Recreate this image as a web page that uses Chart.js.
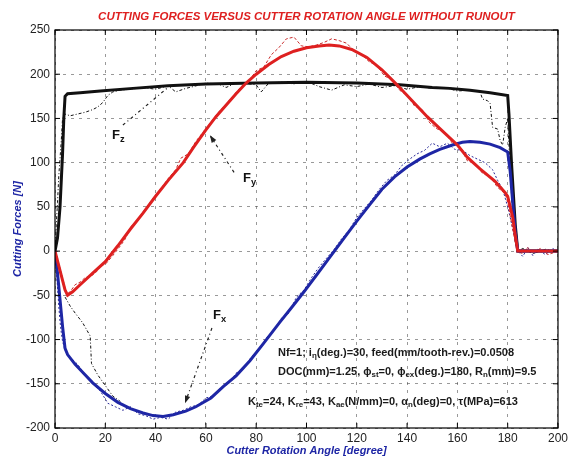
<!DOCTYPE html>
<html>
<head>
<meta charset="utf-8">
<script src="https://cdn.jsdelivr.net/npm/chart.js@4.4.1/dist/chart.umd.min.js"></script>
<style>
  html, body { margin: 0; padding: 0; background: #fff; }
  #wrap { width: 571px; height: 458px; }
</style>
</head>
<body>
<div id="wrap"><canvas id="forceChart" width="571" height="458"></canvas></div>
<script>
// tick labels
let angleTicks = [0, 20, 40, 60, 80, 100, 120, 140, 160, 180, 200];
let forceTicks = [-200, -150, -100, -50, 0, 50, 100, 150, 200, 250];

// simulated Fx (blue)
let simFxAngle = [0, 1, 2, 3, 4, 5, 8, 11, 15, 20, 25, 30, 35, 39, 43, 47, 52, 56, 62, 67, 72, 77.5, 83, 89.5, 94, 99, 104, 109, 115, 120, 125, 130, 135, 140, 145, 149, 153, 158, 162, 165, 169, 173, 177, 180, 181, 182, 183, 184, 190, 200];
let simFx = [0, -25, -55, -85, -110, -117, -128, -137, -149, -161, -171, -178, -183, -186, -187, -185, -181, -176, -166, -153, -141, -124, -104, -80, -64, -46, -27, -8, 15, 34, 52, 70, 84, 95, 104, 110, 115, 120, 123, 124, 123, 121, 117, 112, 90, 55, 22, 0, 0, 0];

// simulated Fy (red)
let simFyAngle = [0, 2, 4, 5, 7, 10, 15, 20, 25, 30, 35, 40, 45, 51, 55, 60, 64, 68, 72, 76, 80, 85, 90, 95, 100, 105, 109, 113, 118, 124, 130, 136, 142, 148, 154, 160, 164, 169, 175, 179, 180, 182, 183, 184, 200];
let simFy = [0, -22, -44, -50, -46, -38, -25, -12, 6, 25, 43, 62, 80, 100, 117, 137, 152, 165, 178, 190, 200, 211, 220, 226, 230, 232, 233, 232, 228, 219, 205, 188, 170, 152, 136, 120, 106, 93, 79, 66, 62, 38, 18, 0, 0];

// simulated Fz (black)
let simFzAngle = [0, 1, 2, 3, 3.5, 4, 5, 10, 18, 31, 45, 60, 80, 100, 120, 137, 150, 157, 165, 173, 180, 180.5, 181.5, 183, 184, 200];
let simFz = [0, 15, 50, 110, 150, 175, 178, 179, 181, 184, 187, 189, 190, 191, 190, 188, 185, 184, 182, 179, 176, 155, 100, 30, 0, 0];

// measured Fz (black dash-dot)
let expFzAngle = [0, 0.5, 1, 1.5, 2, 2.5, 3, 4, 6, 9, 12, 15, 17, 19, 21, 23, 26, 30, 35, 40, 45, 48, 52, 55, 60, 65, 68, 72, 75, 80, 82, 85, 90, 95, 100, 105, 110, 115, 120, 125, 130, 135, 140, 145, 150, 155, 160, 165, 169, 170, 172, 173, 174, 176, 177, 178, 179, 180, 181, 182, 183, 184, 186, 190, 195, 200];
let expFz = [0, 30, 55, 85, 105, 125, 150, 155, 153, 155, 157, 160, 163, 168, 176, 180, 182, 183, 185, 183, 187, 180, 184, 186, 190, 189, 185, 190, 190, 188, 180, 190, 191, 189, 192, 186, 182, 188, 186, 189, 185, 187, 183, 186, 184, 185, 181, 182, 180, 172, 170, 167, 140, 138, 125, 120, 140, 150, 90, 40, 10, 0, 3, -3, 2, -1];

// measured Fy (red dashed)
let expFyAngle = [0, 1, 2, 3, 4, 5, 6, 8, 10, 12, 15, 17, 18, 20, 23, 26, 28, 30, 33, 36, 39, 42, 45, 48, 50, 53, 56, 59, 62, 65, 68, 71, 74, 77, 80, 83, 86, 89, 92, 95, 98, 101, 104, 107, 110, 113, 116, 119, 122, 125, 128, 131, 134, 137, 140, 143, 146, 149, 152, 155, 158, 161, 164, 167, 170, 173, 176, 179, 180, 181, 182, 183, 184, 186, 188, 190, 193, 196, 200];
let expFy = [0, -8, -20, -30, -42, -48, -46, -38, -35, -30, -27, -22, -16, -15, -5, 6, 14, 27, 36, 48, 60, 70, 82, 92, 105, 110, 124, 135, 146, 157, 166, 176, 186, 192, 204, 208, 222, 230, 240, 242, 232, 231, 233, 236, 240, 238, 235, 226, 222, 214, 210, 198, 194, 182, 176, 164, 160, 145, 138, 135, 122, 118, 102, 99, 88, 84, 72, 65, 55, 40, 25, 10, 0, -3, 4, -2, 3, -4, 0];

// measured Fx (blue dotted)
let expFxAngle = [0, 0.5, 1, 1.5, 2, 2.5, 3, 4, 6, 9, 12, 15, 18, 21, 24, 27, 30, 33, 36, 39, 42, 45, 48, 51, 54, 57, 60, 63, 66, 69, 72, 75, 78, 81, 84, 87, 90, 93, 96, 99, 102, 105, 108, 111, 114, 117, 120, 123, 126, 129, 132, 135, 138, 141, 144, 147, 150, 153, 156, 159, 162, 165, 168, 171, 174, 176, 178, 179, 180, 181, 182, 183, 184, 186, 188, 190, 192, 195, 198, 200];
let expFx = [0, -20, -40, -62, -80, -92, -102, -112, -120, -128, -140, -150, -158, -172, -176, -180, -176, -184, -186, -190, -188, -190, -182, -180, -176, -174, -166, -164, -154, -150, -138, -133, -120, -112, -98, -90, -76, -70, -52, -44, -30, -18, -8, 2, 14, 24, 38, 48, 58, 70, 80, 86, 97, 104, 110, 114, 122, 118, 122, 115, 114, 108, 104, 100, 92, 80, 70, 60, 50, 38, 25, 12, 0, -6, 4, -5, 2, -4, 3, -2];

// extra measured trace, lower left (black dash-dot)
let expLowAngle = [4, 6, 8, 11, 14, 14.5, 17, 20, 23, 26];
let expLow = [-52, -62, -70, -81, -96, -127, -140, -152, -164, -170];

// annotation labels and arrows (data coordinates)
let labelNames = ['F', 'F', 'F'];
let labelSubs = ['z', 'y', 'x'];
let labelAngle = [22.7, 74.8, 62.8];
let labelForce = [131, 82.6, -72.4];
let arrowFrom = [[27, 142.5], [71.2, 89], [62.4, -87]];
let arrowTo = [[44.5, 184], [61.6, 131], [51.7, -172]];
let arrowHead = [false, true, true];

function pairs(xs, ys) {
    return xs.map(function (x, i) { return { x: x, y: ys[i] }; });
}

const FONT = '"Liberation Sans", Arial, sans-serif';
const BLUE = 'rgb(30,38,165)';
const RED = 'rgb(222,32,32)';

// draw text with subscripts: parts = [[text, isSub], ...]
function drawRich(ctx, parts, x, y, size, weight) {
    let cx = x;
    parts.forEach(function (p) {
        let s = p[1] ? size * 0.72 : size;
        ctx.font = weight + ' ' + s + 'px ' + FONT;
        ctx.fillText(p[0], cx, p[1] ? y + size * 0.3 : y);
        cx += ctx.measureText(p[0]).width;
    });
}

const decorPlugin = {
    id: 'decor',
    afterDatasetsDraw(chart) {
        const ctx = chart.ctx;
        const a = chart.chartArea;
        const xs = chart.scales.x;
        const ys = chart.scales.y;
        ctx.save();

        // frame
        ctx.strokeStyle = '#000';
        ctx.lineWidth = 1.2;
        ctx.setLineDash([]);
        ctx.strokeRect(a.left, a.top, a.right - a.left, a.bottom - a.top);

        // inside tick marks
        ctx.lineWidth = 1;
        angleTicks.forEach(function (t) {
            let px = xs.getPixelForValue(t);
            ctx.beginPath();
            ctx.moveTo(px, a.bottom); ctx.lineTo(px, a.bottom - 5);
            ctx.moveTo(px, a.top); ctx.lineTo(px, a.top + 5);
            ctx.stroke();
        });
        forceTicks.forEach(function (t) {
            let py = ys.getPixelForValue(t);
            ctx.beginPath();
            ctx.moveTo(a.left, py); ctx.lineTo(a.left + 5, py);
            ctx.moveTo(a.right, py); ctx.lineTo(a.right - 5, py);
            ctx.stroke();
        });

        // annotation arrows
        ctx.strokeStyle = '#222';
        ctx.fillStyle = '#222';
        ctx.lineWidth = 1.2;
        for (let i = 0; i < arrowFrom.length; i++) {
            let x1 = xs.getPixelForValue(arrowFrom[i][0]);
            let y1 = ys.getPixelForValue(arrowFrom[i][1]);
            let x2 = xs.getPixelForValue(arrowTo[i][0]);
            let y2 = ys.getPixelForValue(arrowTo[i][1]);
            ctx.setLineDash([3, 3, 1, 3]);
            ctx.beginPath();
            ctx.moveTo(x1, y1); ctx.lineTo(x2, y2);
            ctx.stroke();
            ctx.setLineDash([]);
            if (arrowHead[i]) {
                let ang = Math.atan2(y2 - y1, x2 - x1);
                ctx.beginPath();
                ctx.moveTo(x2, y2);
                ctx.lineTo(x2 - 8 * Math.cos(ang - 0.35), y2 - 8 * Math.sin(ang - 0.35));
                ctx.lineTo(x2 - 8 * Math.cos(ang + 0.35), y2 - 8 * Math.sin(ang + 0.35));
                ctx.closePath();
                ctx.fill();
            }
        }

        // annotation labels
        ctx.fillStyle = '#111';
        ctx.textBaseline = 'middle';
        ctx.textAlign = 'left';
        for (let i = 0; i < labelNames.length; i++) {
            drawRich(ctx, [[labelNames[i], false], [labelSubs[i], true]],
                xs.getPixelForValue(labelAngle[i]), ys.getPixelForValue(labelForce[i]), 13, 'bold');
        }

        // parameter text
        ctx.fillStyle = '#1a1a1a';
        drawRich(ctx, [['Nf=1; i', false], ['η', true], ['(deg.)=30, feed(mm/tooth-rev.)=0.0508', false]], 278, 353, 11, 'bold');
        drawRich(ctx, [['DOC(mm)=1.25, ϕ', false], ['st', true], ['=0, ϕ', false], ['ex', true], ['(deg.)=180, R', false], ['n', true], ['(mm)=9.5', false]], 278, 372, 11, 'bold');
        drawRich(ctx, [['K', false], ['te', true], ['=24, K', false], ['re', true], ['=43, K', false], ['ae', true], ['(N/mm)=0, α', false], ['n', true], ['(deg)=0, τ(MPa)=613', false]], 248, 402, 11, 'bold');

        // chart title
        ctx.fillStyle = RED;
        ctx.textAlign = 'center';
        ctx.font = 'italic bold 11.5px ' + FONT;
        ctx.fillText('CUTTING FORCES VERSUS CUTTER ROTATION ANGLE WITHOUT RUNOUT', (a.left + a.right) / 2, 17);

        ctx.restore();
    }
};

const ctx = document.getElementById('forceChart');

new Chart(ctx, {
    type: 'scatter',
    data: {
        datasets: [
            { label: 'Fy sim', data: pairs(simFyAngle, simFy), borderColor: RED, borderWidth: 3 },
            { label: 'Fx sim', data: pairs(simFxAngle, simFx), borderColor: BLUE, borderWidth: 3 },
            { label: 'Fz sim', data: pairs(simFzAngle, simFz), borderColor: '#111', borderWidth: 3 },
            { label: 'Fy exp', data: pairs(expFyAngle, expFy), borderColor: 'rgb(200,40,40)', borderWidth: 1, borderDash: [3, 2] },
            { label: 'Fx exp', data: pairs(expFxAngle, expFx), borderColor: 'rgb(40,40,150)', borderWidth: 1, borderDash: [2, 2] },
            { label: 'Fz exp', data: pairs(expFzAngle, expFz), borderColor: '#111', borderWidth: 1, borderDash: [3, 2, 1, 2] },
            { label: 'low exp', data: pairs(expLowAngle, expLow), borderColor: '#111', borderWidth: 1, borderDash: [3, 2, 1, 2] }
        ]
    },
    options: {
        responsive: false,
        animation: false,
        showLine: true,
        elements: { point: { radius: 0 }, line: { tension: 0 } },
        layout: { padding: { top: 30, right: 13, left: 11, bottom: 0 } },
        plugins: { legend: { display: false }, tooltip: { enabled: false } },
        scales: {
            x: {
                type: 'linear', min: 0, max: 200,
                afterFit: function (s) { s.height = 30; },
                afterBuildTicks: function (s) { s.ticks = angleTicks.map(function (v) { return { value: v }; }); },
                grid: { color: 'rgba(70,70,70,0.55)', drawTicks: false, lineWidth: 1 },
                border: { display: false, dash: [3, 5] },
                ticks: { padding: 3, color: '#222', font: { family: FONT, size: 12 } },
                title: {
                    display: true, text: 'Cutter Rotation Angle [degree]', color: BLUE,
                    font: { family: FONT, size: 11, style: 'italic', weight: 'bold' }, padding: 0
                }
            },
            y: {
                type: 'linear', min: -200, max: 250,
                afterFit: function (s) { s.width = 44; },
                afterBuildTicks: function (s) { s.ticks = forceTicks.map(function (v) { return { value: v }; }); },
                grid: { color: 'rgba(70,70,70,0.55)', drawTicks: false, lineWidth: 1 },
                border: { display: false, dash: [3, 5] },
                ticks: { padding: 5, color: '#222', font: { family: FONT, size: 12 } },
                title: {
                    display: true, text: 'Cutting Forces [N]', color: BLUE,
                    font: { family: FONT, size: 11, style: 'italic', weight: 'bold' }, padding: 0
                }
            }
        }
    },
    plugins: [decorPlugin]
});
</script>
</body>
</html>
